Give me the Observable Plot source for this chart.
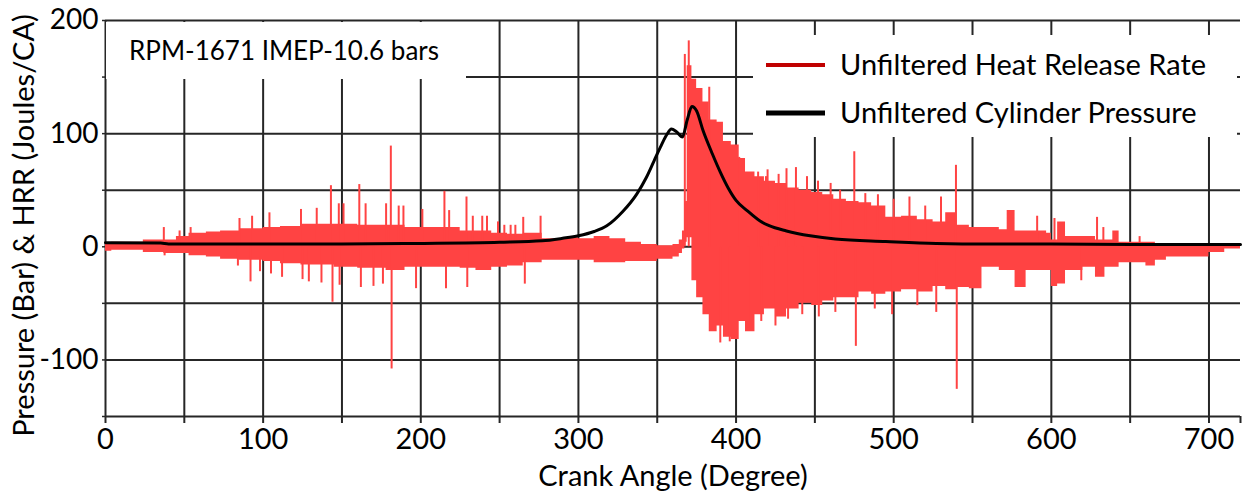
<!DOCTYPE html>
<html>
<head>
<meta charset="utf-8">
<script src="https://cdn.jsdelivr.net/npm/d3@7"></script>
<script src="https://cdn.jsdelivr.net/npm/@observablehq/plot@0.6"></script>
<style>
  html, body { margin: 0; padding: 0; background: #fff; }
  #chart { width: 1243px; height: 504px; }
</style>
</head>
<body>
<div id="chart"></div>
<script>
// ---- Data ----
// Cylinder pressure (bar) vs crank angle (deg)
const pressureCA  = [0, 35, 40, 100, 150, 200, 250, 277, 290, 300, 310, 318, 328, 337, 343, 348, 352, 356, 359, 362, 366, 369, 372, 375, 379, 385, 390, 395, 400, 407, 415, 421, 432, 447, 463, 495, 527, 560, 600, 650, 700, 720];
const pressureVal = [3.5, 3.3, 2.5, 2.5, 2.5, 3, 4, 5.3, 7.5, 9.7, 13.5, 18.6, 31, 46.6, 61, 76, 88, 99, 104, 102, 97, 112, 124, 120, 103, 82, 66, 52, 41, 32, 23, 18.6, 14, 9.7, 6.8, 4.7, 3, 2.5, 2.5, 2, 2, 2];

// Heat release rate: dense band (upper / lower envelope)
const hrrCA = [0, 4, 24, 37, 45, 53, 64, 73, 85, 100, 111, 124, 145, 160, 178, 190, 225, 235, 245, 255, 265, 277, 290, 300, 310, 320, 330, 340, 350, 360, 364, 366, 367.5, 369, 372, 375, 379, 383, 388, 392, 397, 402, 406, 412, 418, 425, 432, 440, 448, 455, 462, 470, 478, 486, 495, 505, 515, 525, 533, 540, 548, 556, 567, 572, 577, 584, 597, 600, 604, 609, 620, 628, 634, 639, 643, 660, 666, 673, 700, 710, 720];
const hrrHi = [2, 4, 6, 6, 9, 12, 13, 14, 16, 17, 18, 20, 20, 19, 19, 17, 14, 14, 12, 11, 12, 7, 8, 7, 9, 7, 4, 2, 1, 2, 6, 14, 40, 160, 148, 140, 128, 112, 110, 93, 90, 78, 66, 62, 58, 56, 52, 50, 48, 46, 42, 40, 39, 36, 26, 27, 24, 22, 30, 19, 17, 17, 15, 32, 14, 14, 12, 6, 22, 9, 9, 6, 6, 14, 4, 4, 3, 3, 3, 3, 3];
const hrrLo = [-4, -3, -5, -6, -6, -8, -9, -11, -12, -13, -15, -16, -18, -19, -21, -18, -19, -21, -18, -17, -14, -12, -12, -12, -14, -14, -13, -13, -11, -9, -6, -2, 4, 8, -30, -45, -60, -75, -70, -80, -82, -66, -75, -60, -55, -62, -55, -50, -52, -48, -45, -45, -40, -42, -40, -38, -40, -35, -38, -36, -37, -18, -21, -21, -36, -21, -21, -35, -33, -21, -18, -27, -18, -18, -14, -17, -12, -9, -5, -2, -2];

// Heat release rate: isolated spikes
const spikeCA  = [37, 37.5, 47, 54, 84, 85, 92, 93, 98, 104, 105, 112, 124, 125, 129, 134, 137, 143, 144, 148, 148.5, 151, 161, 162, 165, 170, 176, 178, 181, 181.5, 186, 189, 197, 201, 215, 216, 218, 229, 229.5, 233, 239, 242, 249, 253, 257, 260, 265, 266, 276,
                  367.5, 370, 383, 390, 396, 402, 408, 414, 416, 419, 420, 425, 427, 432, 433, 438, 442, 445, 452, 452.5, 460, 463, 466, 475, 476, 482, 488, 490, 499, 500, 510, 515, 520, 527, 530, 539.5, 540, 591, 602, 619, 629, 633, 656];
const spikeVal = [17, -8, 14, 17, -17, 25, -31, 27, -22, 30, -24, -27, 33, -29, -31, 34, -32, 54, -49, 38, -34, 38, 55, -36, 38, -35, -33, 38, 89, -108, 36, 36, -37, 33, 49, -37, 32, 44, -36, 27, 27, 27, 22, 19, 19, 19, 26, -33, 27,
                  170, 182, 141, -85, -84, 79, -72, 66, -66, 62, 68, -70, 64, 69, -64, 70, -60, 62, 58, -62, 56, -58, 50, 84, -88, 47, -55, 46, -60, 42, 44, -52, 36, -58, 44, 72, -126, 27, 25, -30, 26, 17, 9];

// Axes
const xGrid = [0, 50, 100, 150, 200, 250, 300, 350, 400, 450, 500, 550, 600, 650, 700];
const xTickMarks = [0, 50, 100, 150, 200, 250, 300, 350, 400, 450, 500, 550, 600, 650, 700, 720];
const xTickLabels = [0, 100, 200, 300, 400, 500, 600, 700];
const yGrid = [-150, -100, -50, 0, 50, 100, 150, 200];
const yTickLabels = [-100, 0, 100, 200];

const title = "RPM-1671 IMEP-10.6 bars";
const seriesNames = ["Unfiltered Heat Release Rate", "Unfiltered Cylinder Pressure"];
const seriesColors = ["#c00000", "#000000"];
const xLabel = "Crank Angle (Degree)";
const yLabel = "Pressure (Bar) & HRR (Joules/CA)";

// ---- Tables ----
const pressure = pressureCA.map((x, i) => ({x, y: pressureVal[i]}));
const band = hrrCA.map((x, i) => ({x, hi: hrrHi[i], lo: hrrLo[i]}));
const spikes = spikeCA.map((x, i) => ({x, y: spikeVal[i]}));

const FONT = "Lato, 'Open Sans', sans-serif";
const RED = "#ff4343";
const GRID = "#262626";

const chart = Plot.plot({
  width: 1243,
  height: 504,
  marginLeft: 105,
  marginRight: 3,
  marginTop: 20,
  marginBottom: 88,
  style: {fontFamily: FONT, fontSize: "28px", color: "#000", background: "#fff", overflow: "visible"},
  x: {domain: [0, 720], label: null},
  y: {domain: [-150, 200], label: null},
  marks: [
    Plot.ruleX(xGrid, {stroke: GRID, strokeWidth: 2}),
    Plot.ruleY(yGrid, {stroke: GRID, strokeWidth: 2}),
    Plot.axisX(xTickMarks, {tickSize: 7, text: null, label: null, stroke: GRID, strokeWidth: 2}),
    Plot.axisX(xTickLabels, {tickSize: 0, tickPadding: 12, fontSize: 29, label: null, fill: "#000", tickFormat: d => String(d)}),
    Plot.axisY(yGrid, {tickSize: 3, text: null, label: null, stroke: GRID, strokeWidth: 1.5}),
    Plot.axisY(yTickLabels, {tickSize: 0, tickPadding: 7, fontSize: 28, label: null, fill: "#000", tickFormat: d => String(d)}),
    Plot.areaY(band, {x: "x", y1: "lo", y2: "hi", curve: "step-after", fill: RED}),
    Plot.ruleX(spikes, {x: "x", y1: 0, y2: "y", stroke: RED, strokeWidth: 2}),
    Plot.line(pressure, {x: "x", y: "y", stroke: "#000", strokeWidth: 3, curve: "monotone-x"}),
    Plot.text([xLabel], {frameAnchor: "bottom", dy: 69, fontSize: 29, fill: "#000", textAnchor: "middle"}),
    Plot.text([yLabel], {frameAnchor: "left", dx: -81, dy: 7, rotate: -90, fontSize: 29, fill: "#000", textAnchor: "middle"})
  ]
});

document.getElementById("chart").appendChild(chart);

// ---- Annotation box and legend (drawn over the grid) ----
const svg = d3.select(chart);
const note = svg.append("g").attr("text-anchor", "start");
note.append("rect").attr("x", 106).attr("y", 22).attr("width", 360).attr("height", 57)
  .attr("fill", "#ffffff").attr("stroke", "none");
note.append("text").attr("x", 129).attr("y", 60).attr("text-anchor", "start")
  .attr("font-family", FONT).attr("font-size", 26).attr("fill", "#000").text(title);

const legend = svg.append("g").attr("text-anchor", "start");
legend.append("rect").attr("x", 753).attr("y", 35).attr("width", 484).attr("height", 102)
  .attr("fill", "#ffffff").attr("stroke", "none");
seriesNames.forEach((name, i) => {
  const cy = 65 + i * 48;
  legend.append("line").attr("x1", 766).attr("x2", 825).attr("y1", cy).attr("y2", cy)
    .attr("stroke", seriesColors[i]).attr("stroke-width", i === 0 ? 4 : 5);
  legend.append("text").attr("x", 840).attr("y", cy).attr("dy", "0.35em").attr("text-anchor", "start")
    .attr("font-family", FONT).attr("font-size", 29).attr("fill", "#000").text(name);
});
</script>
</body>
</html>
